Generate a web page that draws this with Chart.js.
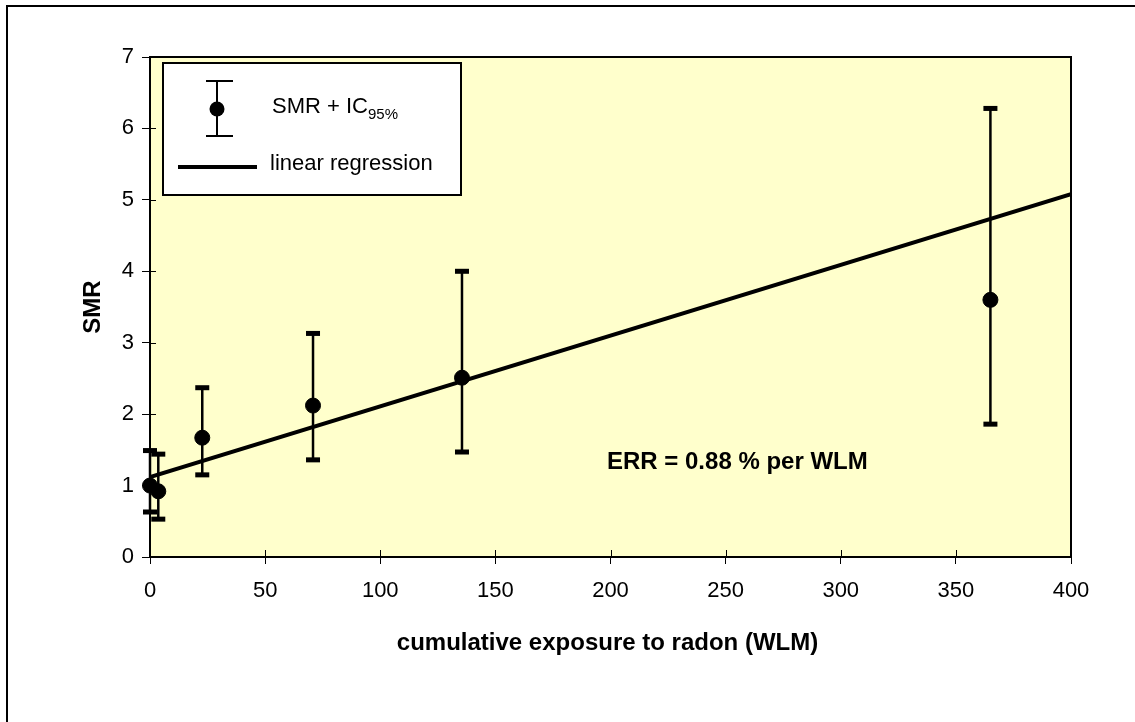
<!DOCTYPE html>
<html>
<head>
<meta charset="utf-8">
<script src="https://cdn.jsdelivr.net/npm/chart.js@4/dist/chart.umd.min.js"></script>
<style>
  html, body { margin: 0; padding: 0; background: #fff; }
  #wrap { width: 1135px; height: 722px; position: relative; }
</style>
</head>
<body>
<div id="wrap"><canvas id="chart"></canvas></div>
<script>
// data
const exposure = [0, 3.6, 22.7, 70.8, 135.5, 365];
const smr = [1.0, 0.92, 1.67, 2.12, 2.51, 3.6];
const ciLow = [0.63, 0.53, 1.15, 1.36, 1.47, 1.86];
const ciHigh = [1.49, 1.44, 2.37, 3.13, 4.0, 6.28];

// regression line end points
const regX = [0, 400];
const regY = [1.12, 5.08];

const xTicks = [0, 50, 100, 150, 200, 250, 300, 350, 400];
const yTicks = [0, 1, 2, 3, 4, 5, 6, 7];

const FONT = "'Liberation Sans', Arial, sans-serif";

const decorPlugin = {
  id: "decor",
  beforeDraw(chart) {
    const { ctx, chartArea: a } = chart;
    ctx.save();
    ctx.fillStyle = "#fff";
    ctx.fillRect(0, 0, chart.width, chart.height);
    ctx.fillStyle = "#FFFFCC";
    ctx.fillRect(a.left, a.top, a.right - a.left, a.bottom - a.top);
    // outer frame (continues past the right and bottom edges)
    ctx.strokeStyle = "#000";
    ctx.lineWidth = 2;
    ctx.strokeRect(7, 6, chart.width + 20, chart.height + 20);
    ctx.restore();
  },
  beforeDatasetsDraw(chart) {
    const { ctx } = chart;
    const xs = chart.scales.x;
    const ys = chart.scales.y;
    ctx.save();
    ctx.strokeStyle = "#000";
    ctx.fillStyle = "#000";
    ctx.lineWidth = 2.5;
    exposure.forEach((x, i) => {
      const px = xs.getPixelForValue(x);
      const lo = ys.getPixelForValue(ciLow[i]);
      const hi = ys.getPixelForValue(ciHigh[i]);
      ctx.beginPath();
      ctx.moveTo(px, lo);
      ctx.lineTo(px, hi);
      ctx.stroke();
      ctx.fillRect(px - 7, hi - 2.5, 14, 5);
      ctx.fillRect(px - 7, lo - 2.5, 14, 5);
    });
    ctx.restore();
  },
  afterDraw(chart) {
    const { ctx, chartArea: a } = chart;
    const xs = chart.scales.x;
    const ys = chart.scales.y;
    ctx.save();

    // plot frame top / right
    ctx.strokeStyle = "#000";
    ctx.lineWidth = 2;
    ctx.beginPath();
    ctx.moveTo(a.left, a.top);
    ctx.lineTo(a.right, a.top);
    ctx.lineTo(a.right, a.bottom);
    ctx.stroke();

    // inner part of tick marks
    ctx.lineWidth = 1;
    yTicks.forEach((v) => {
      const py = Math.round(ys.getPixelForValue(v)) + 0.5;
      ctx.beginPath();
      ctx.moveTo(a.left, py);
      ctx.lineTo(a.left + 6, py);
      ctx.stroke();
    });
    xTicks.forEach((v) => {
      const px = Math.round(xs.getPixelForValue(v)) + 0.5;
      ctx.beginPath();
      ctx.moveTo(px, a.bottom);
      ctx.lineTo(px, a.bottom - 7);
      ctx.stroke();
    });

    // axis titles
    ctx.fillStyle = "#000";
    ctx.font = "bold 24px " + FONT;
    ctx.textAlign = "center";
    ctx.textBaseline = "alphabetic";
    ctx.fillText("cumulative exposure to radon (WLM)", (a.left + a.right) / 2 - 3, 650);
    ctx.save();
    ctx.translate(100, (a.top + a.bottom) / 2);
    ctx.rotate(-Math.PI / 2);
    ctx.fillText("SMR", 0, 0);
    ctx.restore();

    // annotation
    ctx.textAlign = "left";
    ctx.fillText("ERR = 0.88 % per WLM", 607, 469);

    // legend
    ctx.fillStyle = "#fff";
    ctx.fillRect(163, 63, 298, 132);
    ctx.strokeStyle = "#000";
    ctx.lineWidth = 2;
    ctx.strokeRect(163, 63, 298, 132);

    ctx.lineWidth = 2;
    ctx.beginPath();
    ctx.moveTo(217, 81);
    ctx.lineTo(217, 136);
    ctx.moveTo(206, 81);
    ctx.lineTo(233, 81);
    ctx.moveTo(206, 136);
    ctx.lineTo(233, 136);
    ctx.stroke();
    ctx.fillStyle = "#000";
    ctx.beginPath();
    ctx.arc(217, 109, 7.5, 0, Math.PI * 2);
    ctx.fill();

    ctx.lineWidth = 4;
    ctx.beginPath();
    ctx.moveTo(178, 167);
    ctx.lineTo(257, 167);
    ctx.stroke();

    ctx.font = "22px " + FONT;
    ctx.fillText("SMR + IC", 272, 113);
    const w = ctx.measureText("SMR + IC").width;
    ctx.font = "15px " + FONT;
    ctx.fillText("95%", 272 + w, 119);
    ctx.font = "22px " + FONT;
    ctx.fillText("linear regression", 270, 170);

    ctx.restore();
  },
};

const ctx = document.getElementById("chart").getContext("2d");

new Chart(ctx, {
  type: "scatter",
  data: {
    datasets: [
      {
        label: "SMR + IC95%",
        data: exposure.map((x, i) => ({ x: x, y: smr[i] })),
        backgroundColor: "#000",
        borderColor: "#000",
        pointRadius: 7.5,
        pointHoverRadius: 7.5,
        clip: false,
      },
      {
        type: "line",
        label: "linear regression",
        data: regX.map((x, i) => ({ x: x, y: regY[i] })),
        borderColor: "#000",
        borderWidth: 4,
        pointRadius: 0,
        fill: false,
      },
    ],
  },
  options: {
    responsive: true,
    maintainAspectRatio: false,
    animation: false,
    layout: { padding: { top: 57, right: 64, left: 0, bottom: 0 } },
    plugins: {
      legend: { display: false },
      tooltip: { enabled: false },
    },
    scales: {
      x: {
        type: "linear",
        min: 0,
        max: 400,
        afterFit: (scale) => { scale.height = 165; },
        afterBuildTicks: (scale) => { scale.ticks = xTicks.map((v) => ({ value: v })); },
        ticks: {
          color: "#000",
          font: { family: FONT, size: 22 },
          padding: 14,
          maxRotation: 0,
        },
        grid: { drawOnChartArea: false, color: "#000", tickLength: 7, lineWidth: 1 },
        border: { color: "#000", width: 2 },
      },
      y: {
        type: "linear",
        min: 0,
        max: 7,
        afterFit: (scale) => { scale.width = 150; },
        afterBuildTicks: (scale) => { scale.ticks = yTicks.map((v) => ({ value: v })); },
        ticks: {
          color: "#000",
          font: { family: FONT, size: 22 },
          padding: 8,
        },
        grid: { drawOnChartArea: false, color: "#000", tickLength: 8, lineWidth: 1 },
        border: { color: "#000", width: 2 },
      },
    },
  },
  plugins: [decorPlugin],
});
</script>
</body>
</html>
